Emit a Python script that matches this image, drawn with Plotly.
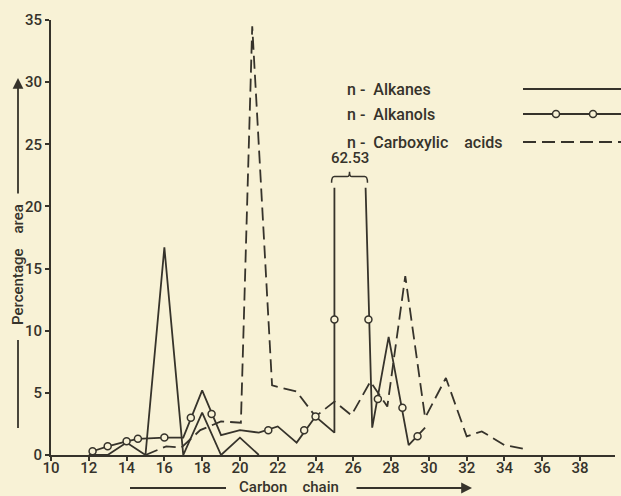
import plotly.graph_objects as go

# ---------------- data ----------------
alkanes_c = [12, 13, 14, 15, 16, 17, 18, 19, 20, 21]
alkanes_pct = [0, 0, 1.0, 0, 16.7, 0, 3.4, 0, 1.4, 0]

# n-alkanols: the C25-C27 peak (62.53 %) is drawn broken at the break level
alkanols_peak_label = "62.53"
axis_break_level = 21.5
alkanols_c = [12.2, 13, 14, 14.6, 16, 17, 18, 19, 20, 21, 22, 23, 24, 25, 25, None, 26.65, 27, 27.87, 28.93, 29.8]
alkanols_pct = [0.3, 0.7, 1.1, 1.3, 1.4, 1.4, 5.2, 1.6, 2.0, 1.8, 2.3, 1.0, 3.1, 1.8,
                axis_break_level, None, axis_break_level, 2.2, 9.5, 0.8, 2.2]
alkanols_marks_c = [12.2, 13, 14, 14.6, 16, 17.4, 18.5, 21.5, 23.4, 24, 25, 26.8, 27.3, 28.6, 29.4]
alkanols_marks_pct = [0.3, 0.7, 1.1, 1.3, 1.4, 3.0, 3.3, 2.0, 2.0, 3.1, 10.9, 10.9, 4.5, 3.8, 1.5]

acids_c = [15, 16.1, 16.9, 17.9, 19, 20.05, 20.65, 21.7, 23, 24, 25, 25.9, 26.9, 27.8, 28.75,
           29.8, 30.9, 32, 32.8, 34, 35]
acids_pct = [0, 0.7, 0.6, 2.0, 2.7, 2.6, 34.5, 5.6, 5.1, 3.1, 4.3, 3.2, 5.9, 3.9, 14.4,
             3.0, 6.2, 1.5, 1.9, 0.8, 0.5]

x_ticks = list(range(10, 40, 2))
y_ticks = list(range(0, 40, 5))

legend_names = ["n -&nbsp; Alkanes", "n -&nbsp; Alkanols", "n -&nbsp; Carboxylic&nbsp;&nbsp;&nbsp; acids"]

# ---------------- style ----------------
BG = "#f8f2d6"
INK = "#36332b"
FONT = "Roboto, DejaVu Sans, sans-serif"
W, H = 621, 496
L, R, T, B = 51, 6, 20, 41
PW, PH = W - L - R, H - T - B


def px(x):
    return (x - L) / PW


def py(y):
    return (H - B - y) / PH


def tfont(size=15):
    return dict(family=FONT, size=size, color=INK, weight=500)


fig = go.Figure()

fig.add_trace(go.Scatter(x=alkanes_c, y=alkanes_pct, mode="lines",
                         line=dict(color=INK, width=1.8), showlegend=False))
fig.add_trace(go.Scatter(x=acids_c, y=acids_pct, mode="lines",
                         line=dict(color=INK, width=1.8, dash="13px,6px"), showlegend=False))
fig.add_trace(go.Scatter(x=alkanols_c, y=alkanols_pct, mode="lines",
                         line=dict(color=INK, width=1.8), connectgaps=False, showlegend=False))
fig.add_trace(go.Scatter(x=alkanols_marks_c, y=alkanols_marks_pct, mode="markers",
                         marker=dict(symbol="circle", size=7, color=BG,
                                     line=dict(color=INK, width=1.5)),
                         showlegend=False))

shapes = []
annotations = []

# brace above the broken alkanol peak
bx0, bx1 = 24.85, 26.75
bm = (bx0 + bx1) / 2
b0 = axis_break_level + 0.4
b1 = axis_break_level + 0.9
b2 = axis_break_level + 1.3
shapes.append(dict(
    type="path", xref="x", yref="y",
    path=(f"M {bx0},{b0} Q {bx0},{b1} {bx0+0.15},{b1} L {bm-0.12},{b1} "
          f"Q {bm},{b1} {bm},{b2} Q {bm},{b1} {bm+0.12},{b1} L {bx1-0.15},{b1} "
          f"Q {bx1},{b1} {bx1},{b0}"),
    line=dict(color=INK, width=1.5)))
annotations.append(dict(x=bm, y=b2 + 0.2, xref="x", yref="y", text=alkanols_peak_label,
                        showarrow=False, xanchor="center", yanchor="bottom", font=tfont(15)))

# legend (drawn by hand, like the original)
legend_y = [89, 114, 142]
for name, yy in zip(legend_names, legend_y):
    annotations.append(dict(x=px(345), y=py(yy), xref="paper", yref="paper", text=name,
                            showarrow=False, xanchor="left", yanchor="middle",
                            font=tfont(16)))
shapes.append(dict(type="line", xref="paper", yref="paper", x0=px(523), x1=px(621),
                   y0=py(89), y1=py(89), line=dict(color=INK, width=1.8)))
shapes.append(dict(type="line", xref="paper", yref="paper", x0=px(523), x1=px(621),
                   y0=py(114), y1=py(114), line=dict(color=INK, width=1.8)))
for cx in (556, 593):
    shapes.append(dict(type="circle", xref="paper", yref="paper", xsizemode="pixel",
                       ysizemode="pixel", xanchor=px(cx), yanchor=py(114),
                       x0=-3.5, x1=3.5, y0=-3.5, y1=3.5, fillcolor=BG,
                       line=dict(color=INK, width=1.5)))
shapes.append(dict(type="line", xref="paper", yref="paper", x0=px(523), x1=px(621),
                   y0=py(142), y1=py(142), line=dict(color=INK, width=1.8, dash="13px,6px")))

# axis titles with their arrows
annotations.append(dict(x=px(18), y=py(265), xref="paper", yref="paper",
                        text="Percentage&nbsp;&nbsp;&nbsp; area", textangle=-90,
                        xanchor="center", yanchor="middle",
                        showarrow=False, font=tfont(15)))
shapes.append(dict(type="line", xref="paper", yref="paper", x0=px(18), x1=px(18),
                   y0=py(340), y1=py(428), line=dict(color=INK, width=1.8)))
annotations.append(dict(x=px(18), y=py(78), xref="paper", yref="paper", text="",
                        showarrow=True, ax=0, ay=117,
                        arrowhead=2, arrowsize=1.2, arrowwidth=1.8, arrowcolor=INK))

annotations.append(dict(x=px(289), y=py(487), xref="paper", yref="paper",
                        text="Carbon&nbsp;&nbsp;&nbsp; chain", xanchor="center", yanchor="middle",
                        showarrow=False, font=tfont(15)))
shapes.append(dict(type="line", xref="paper", yref="paper", x0=px(130), x1=px(226),
                   y0=py(488), y1=py(488), line=dict(color=INK, width=1.8)))
annotations.append(dict(x=px(472), y=py(488), xref="paper", yref="paper", text="",
                        showarrow=True, ax=-117, ay=0,
                        arrowhead=2, arrowsize=1.2, arrowwidth=1.8, arrowcolor=INK))

fig.update_layout(
    width=W, height=H, autosize=False,
    margin=dict(l=L, r=R, t=T, b=B, pad=0, autoexpand=False),
    paper_bgcolor=BG, plot_bgcolor=BG,
    font=tfont(15),
    shapes=shapes, annotations=annotations,
    showlegend=False,
)
fig.update_xaxes(range=[10, 39.85], tickmode="array", tickvals=x_ticks,
                 ticktext=[str(v) for v in x_ticks], automargin=False,
                 showgrid=False, zeroline=False, showline=True, linecolor=INK, linewidth=2,
                 ticks="outside", ticklen=4, tickwidth=1.5, tickcolor=INK,
                 ticklabelstandoff=-6, tickfont=tfont(15))
fig.update_yaxes(range=[0, 35], tickmode="array", tickvals=y_ticks,
                 ticktext=[str(v) for v in y_ticks], automargin=False,
                 showgrid=False, zeroline=False, showline=True, linecolor=INK, linewidth=2,
                 ticks="outside", ticklen=4, tickwidth=1.5, tickcolor=INK,
                 tickfont=tfont(15))

fig.write_html("out.html", config={"responsive": False, "displayModeBar": False},
               post_script="document.body.style.margin='0px';document.body.style.background='" + BG + "';")
